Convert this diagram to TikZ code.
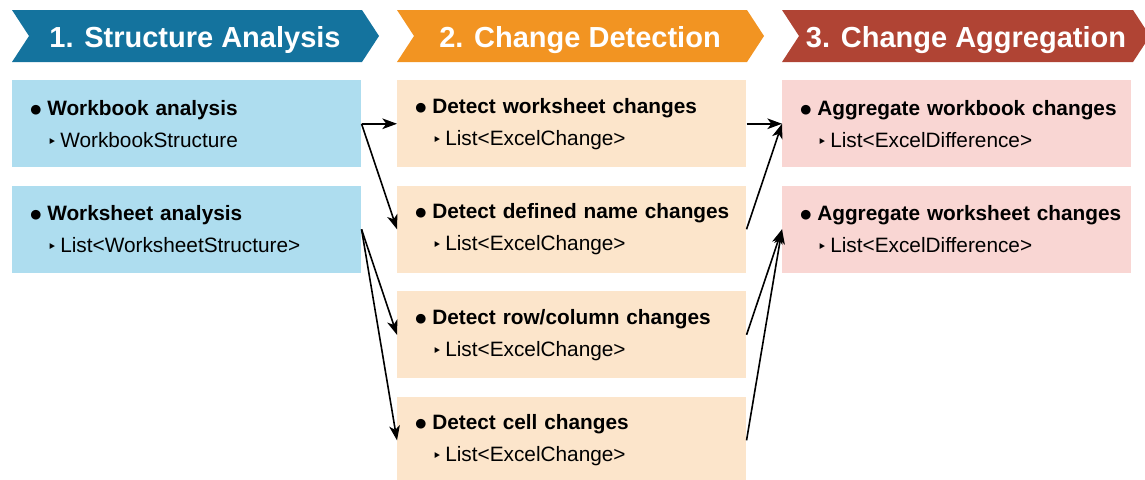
\documentclass[tikz,border=0pt]{standalone}
\usepackage{fontspec}
\setmainfont{Liberation Sans}
\newfontfamily\symfont{DejaVu Sans}
\usetikzlibrary{positioning, arrows.meta}
\definecolor{StructHead}{RGB}{20,115,158}
\definecolor{DetectHead}{RGB}{242,148,34}
\definecolor{AggHead}{RGB}{176,68,52}
\definecolor{StructFill}{RGB}{174,221,239}
\definecolor{DetectFill}{RGB}{252,229,203}
\definecolor{AggFill}{RGB}{249,214,211}

% one box entry: bold title and its result type
\newcommand{\boxitem}[2]{\hspace*{10.5pt}\makebox[12.75pt][l]{\raisebox{1.6pt}{\symfont\fontsize{9.5}{10}\selectfont ●}}\textbf{#1}\\
  \hspace*{23.25pt}\makebox[9.75pt][l]{\symfont\fontsize{12}{12}\selectfont ‣}#2}

\begin{document}
\begin{tikzpicture}[x=0.75pt, y=-0.75pt,
    headtext/.style={text=white, anchor=base, font=\bfseries\fontsize{21.75}{24}\selectfont},
    stepbox/.style={minimum width=261.75pt, minimum height=65.25pt, inner xsep=3pt,
      text width=255.75pt, align=left, font=\fontsize{15.6}{24}\selectfont},
    flow/.style={-{Stealth[length=11pt, width=8pt, inset=3pt]}, line width=1.2pt},
    node distance=13.5pt]
  \useasboundingbox (0,0) rectangle (1145,479);

  % Phase headers
  \fill[StructHead] (12,10) -- (362,10) -- (379,36) -- (362,62) -- (12,62) -- (29,36) -- cycle;
  \node[headtext] (hStruct) at (195,47) {1. Structure Analysis};
  \fill[DetectHead] (397,10) -- (747,10) -- (764,36) -- (747,62) -- (397,62) -- (414,36) -- cycle;
  \node[headtext] (hDetect) at (580,47) {2. Change Detection};
  \fill[AggHead] (782,10) -- (1133,10) -- (1150,36) -- (1133,62) -- (782,62) -- (799,36) -- cycle;
  \node[headtext] (hAgg) at (966,47) {3. Change Aggregation};

  % Structure analysis
  \node[stepbox, fill=StructFill, anchor=north west] (wbA) at (12,80)
    {\boxitem{Workbook analysis}{WorkbookStructure}};
  \node[stepbox, fill=StructFill, below=of wbA] (wsA)
    {\boxitem{Worksheet analysis}{List<WorksheetStructure>}};

  % Change detection
  \node[stepbox, fill=DetectFill, anchor=north west] (detWs) at (397,80)
    {\boxitem{Detect worksheet changes}{List<ExcelChange>}};
  \node[stepbox, fill=DetectFill, below=of detWs] (detName)
    {\boxitem{Detect defined name changes}{List<ExcelChange>}};
  \node[stepbox, fill=DetectFill, below=of detName] (detRC)
    {\boxitem{Detect row/column changes}{List<ExcelChange>}};
  \node[stepbox, fill=DetectFill, below=of detRC] (detCell)
    {\boxitem{Detect cell changes}{List<ExcelChange>}};

  % Change aggregation
  \node[stepbox, fill=AggFill, anchor=north west] (aggWb) at (782,80)
    {\boxitem{Aggregate workbook changes}{List<ExcelDifference>}};
  \node[stepbox, fill=AggFill, below=of aggWb] (aggWs)
    {\boxitem{Aggregate worksheet changes}{List<ExcelDifference>}};

  % Flows
  \draw[flow] (wbA.east) -- (detWs.west);
  \draw[flow] (wbA.east) -- (detName.west);
  \draw[flow] (wsA.east) -- (detRC.west);
  \draw[flow] (wsA.east) -- (detCell.west);
  \draw[flow] (detWs.east) -- (aggWb.west);
  \draw[flow] (detName.east) -- (aggWb.west);
  \draw[flow] (detRC.east) -- (aggWs.west);
  \draw[flow] (detCell.east) -- (aggWs.west);
\end{tikzpicture}
\end{document}
